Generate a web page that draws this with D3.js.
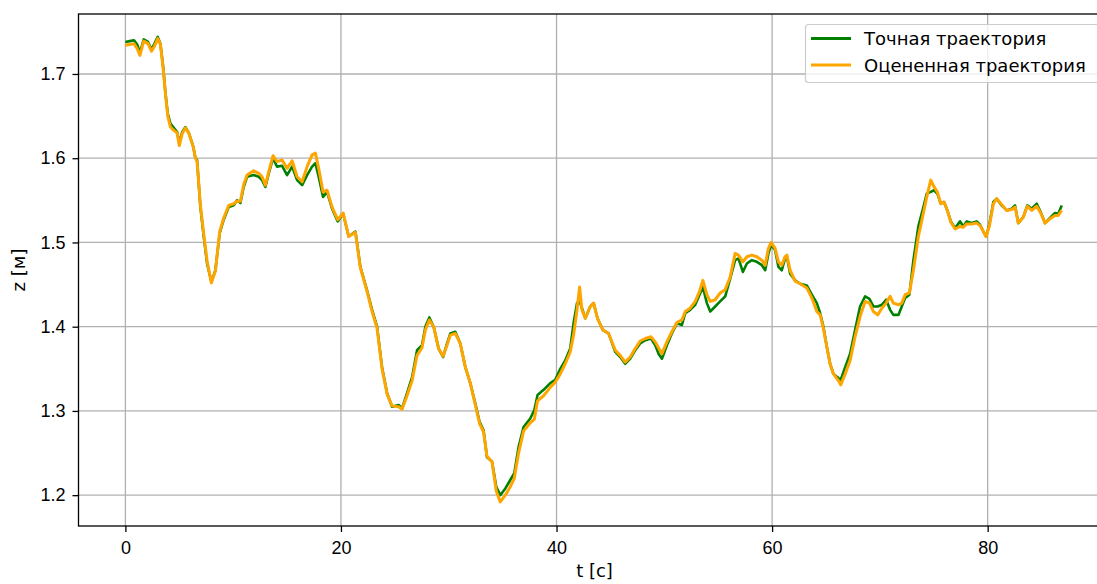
<!DOCTYPE html>
<html>
<head>
<meta charset="utf-8">
<script src="https://cdn.jsdelivr.net/npm/d3@7"></script>
<style>
  body { margin: 0; background: #fff; }
  svg { display: block; font-family: "DejaVu Sans", sans-serif; }
  .grid line { stroke: #b0b0b0; stroke-width: 1.3; }
  .axis text { font-size: 18px; fill: #000; }
  .axis path, .axis line { stroke: #000; stroke-width: 1.3; }
</style>
</head>
<body>
<div id="chart"></div>
<script>
// time, seconds
const timeS = [
  0.0, 0.4, 0.8, 1.1, 1.35, 1.7, 2.1, 2.42, 2.7, 3.0, 3.25, 3.5, 3.72, 3.93, 4.18, 4.49, 4.8, 5.0, 5.27, 5.57,
  5.88, 6.29, 6.5, 6.65, 6.96, 7.27, 7.58, 7.98, 8.35, 8.75, 9.12, 9.59, 10.05, 10.36, 10.67, 10.98, 11.29, 11.9, 12.37, 12.68,
  12.99, 13.3, 13.7, 14.07, 14.54, 15.0, 15.47, 15.93, 16.4, 16.86, 17.32, 17.63, 17.93, 18.34, 18.71, 19.18, 19.7, 20.2, 20.72, 21.34,
  21.8, 22.42, 22.89, 23.35, 23.81, 24.28, 24.74, 25.35, 25.67, 26.13, 26.6, 27.06, 27.52, 27.83, 28.2, 28.6, 29.06, 29.47, 29.84, 30.15,
  30.61, 31.07, 31.54, 32.0, 32.46, 32.86, 33.23, 33.55, 34.01, 34.41, 34.78, 35.25, 35.71, 36.08, 36.48, 36.94, 37.56, 37.94, 38.24, 38.8,
  39.42, 39.88, 40.35, 40.81, 41.27, 41.58, 41.9, 42.14, 42.36, 42.67, 43.13, 43.44, 43.8, 44.3, 44.83, 45.45, 45.91, 46.37, 46.84, 47.3,
  47.76, 48.23, 48.76, 49.16, 49.46, 49.78, 50.24, 50.7, 51.17, 51.63, 51.94, 52.4, 52.87, 53.27, 53.58, 53.95, 54.26, 54.72, 55.18, 55.65,
  56.11, 56.57, 56.88, 57.29, 57.66, 58.12, 58.59, 59.05, 59.36, 59.66, 59.91, 60.28, 60.59, 60.9, 61.2, 61.37, 61.67, 62.14, 62.6, 63.22,
  63.69, 64.15, 64.46, 64.76, 65.08, 65.38, 65.69, 66.15, 66.37, 66.78, 67.24, 67.7, 68.16, 68.63, 69.03, 69.4, 69.8, 70.18, 70.58, 70.95,
  71.25, 71.72, 72.03, 72.34, 72.74, 73.11, 73.57, 74.04, 74.35, 74.72, 75.03, 75.33, 75.65, 75.95, 76.26, 76.58, 76.98, 77.44, 77.74, 78.05,
  78.52, 78.98, 79.29, 79.6, 79.85, 80.15, 80.53, 80.84, 81.3, 81.77, 82.23, 82.54, 82.84, 83.3, 83.68, 84.09, 84.55, 84.92, 85.32, 85.78,
  86.25, 86.55, 86.87
];

// ground truth z, metres
const trueZ = [
  1.738, 1.739, 1.740, 1.735, 1.725, 1.741, 1.738, 1.729, 1.736, 1.744, 1.736, 1.709, 1.677, 1.653, 1.641, 1.636, 1.631, 1.618, 1.631, 1.637,
  1.630, 1.614, 1.600, 1.598, 1.542, 1.507, 1.475, 1.453, 1.467, 1.511, 1.527, 1.542, 1.544, 1.550, 1.547, 1.566, 1.578, 1.580, 1.578, 1.574,
  1.566, 1.582, 1.600, 1.590, 1.591, 1.580, 1.590, 1.574, 1.568, 1.580, 1.590, 1.594, 1.578, 1.554, 1.560, 1.540, 1.525, 1.534, 1.507, 1.513,
  1.471, 1.443, 1.420, 1.400, 1.352, 1.321, 1.305, 1.307, 1.303, 1.321, 1.340, 1.372, 1.378, 1.400, 1.411, 1.400, 1.374, 1.364, 1.380, 1.392,
  1.394, 1.380, 1.352, 1.333, 1.309, 1.287, 1.277, 1.245, 1.240, 1.210, 1.200, 1.208, 1.218, 1.226, 1.257, 1.281, 1.291, 1.301, 1.319, 1.325,
  1.333, 1.337, 1.350, 1.360, 1.374, 1.404, 1.428, 1.430, 1.422, 1.410, 1.424, 1.428, 1.410, 1.396, 1.392, 1.370, 1.364, 1.356, 1.362, 1.372,
  1.380, 1.384, 1.386, 1.378, 1.368, 1.362, 1.378, 1.392, 1.404, 1.402, 1.416, 1.420, 1.426, 1.438, 1.447, 1.428, 1.418, 1.424, 1.430, 1.436,
  1.457, 1.479, 1.481, 1.465, 1.475, 1.479, 1.477, 1.473, 1.467, 1.487, 1.497, 1.491, 1.471, 1.467, 1.481, 1.483, 1.463, 1.455, 1.451, 1.449,
  1.438, 1.428, 1.416, 1.400, 1.376, 1.356, 1.344, 1.339, 1.337, 1.352, 1.368, 1.396, 1.424, 1.436, 1.433, 1.424, 1.424, 1.426, 1.432, 1.420,
  1.414, 1.414, 1.424, 1.434, 1.438, 1.479, 1.519, 1.542, 1.558, 1.560, 1.562, 1.558, 1.546, 1.548, 1.538, 1.525, 1.517, 1.525, 1.519, 1.525,
  1.523, 1.525, 1.521, 1.513, 1.507, 1.521, 1.548, 1.552, 1.544, 1.538, 1.540, 1.544, 1.523, 1.530, 1.544, 1.540, 1.546, 1.536, 1.523, 1.529,
  1.535, 1.534, 1.544
];

// estimated z, metres
const estZ = [
  1.734, 1.735, 1.736, 1.730, 1.722, 1.739, 1.736, 1.727, 1.733, 1.742, 1.735, 1.707, 1.676, 1.650, 1.637, 1.633, 1.630, 1.615, 1.629, 1.636,
  1.630, 1.614, 1.600, 1.596, 1.544, 1.510, 1.478, 1.452, 1.466, 1.513, 1.529, 1.544, 1.546, 1.549, 1.549, 1.569, 1.580, 1.585, 1.582, 1.578,
  1.568, 1.584, 1.603, 1.596, 1.598, 1.588, 1.597, 1.578, 1.572, 1.590, 1.604, 1.606, 1.588, 1.560, 1.562, 1.542, 1.527, 1.535, 1.507, 1.512,
  1.470, 1.442, 1.418, 1.398, 1.350, 1.320, 1.306, 1.305, 1.302, 1.318, 1.336, 1.366, 1.375, 1.396, 1.408, 1.400, 1.374, 1.365, 1.378, 1.390,
  1.392, 1.380, 1.352, 1.333, 1.307, 1.285, 1.275, 1.246, 1.240, 1.205, 1.192, 1.200, 1.210, 1.220, 1.250, 1.276, 1.286, 1.290, 1.312, 1.318,
  1.328, 1.334, 1.344, 1.356, 1.370, 1.390, 1.420, 1.447, 1.420, 1.410, 1.424, 1.428, 1.410, 1.396, 1.392, 1.372, 1.366, 1.358, 1.364, 1.374,
  1.383, 1.386, 1.388, 1.382, 1.375, 1.368, 1.382, 1.394, 1.405, 1.408, 1.418, 1.422, 1.430, 1.442, 1.455, 1.438, 1.430, 1.432, 1.440, 1.444,
  1.459, 1.487, 1.485, 1.477, 1.483, 1.485, 1.483, 1.479, 1.473, 1.493, 1.500, 1.493, 1.477, 1.473, 1.483, 1.485, 1.467, 1.454, 1.451, 1.446,
  1.434, 1.418, 1.414, 1.398, 1.376, 1.356, 1.344, 1.336, 1.331, 1.344, 1.360, 1.388, 1.412, 1.430, 1.428, 1.418, 1.414, 1.422, 1.428, 1.436,
  1.428, 1.426, 1.428, 1.438, 1.440, 1.467, 1.507, 1.535, 1.554, 1.574, 1.566, 1.560, 1.546, 1.548, 1.538, 1.524, 1.516, 1.519, 1.518, 1.522,
  1.522, 1.523, 1.520, 1.513, 1.507, 1.519, 1.546, 1.552, 1.545, 1.538, 1.539, 1.542, 1.523, 1.530, 1.543, 1.538, 1.543, 1.535, 1.523, 1.528,
  1.532, 1.532, 1.538
];

const xTicks = [0, 20, 40, 60, 80];
const yTicks = [1.2, 1.3, 1.4, 1.5, 1.6, 1.7];
const seriesNames = ["Точная траектория", "Оцененная траектория"];
const seriesColors = ["green", "orange"];
const seriesWidths = [2.6, 3.0];

const width = 1097, height = 584;
const plot = { left: 78.5, top: 14, right: 1110, bottom: 526 };

const svg = d3.select("#chart").append("svg")
    .attr("width", width)
    .attr("height", height);

const x = d3.scaleLinear().domain([-4.35, 91.35]).range([plot.left, plot.right]);
const y = d3.scaleLinear().domain([1.1634, 1.7712]).range([plot.bottom, plot.top]);

// grid
const grid = svg.append("g").attr("class", "grid");
grid.selectAll(".gx").data(xTicks).enter().append("line")
    .attr("x1", d => x(d)).attr("x2", d => x(d))
    .attr("y1", plot.top).attr("y2", plot.bottom);
grid.selectAll(".gy").data(yTicks).enter().append("line")
    .attr("x1", plot.left).attr("x2", plot.right)
    .attr("y1", d => y(d)).attr("y2", d => y(d));

// lines
const line = d3.line().x(d => x(d[0])).y(d => y(d[1]));
[trueZ, estZ].forEach((vals, i) => {
    svg.append("path")
        .datum(timeS.map((t, j) => [t, vals[j]]))
        .attr("fill", "none")
        .attr("stroke", seriesColors[i])
        .attr("stroke-width", seriesWidths[i])
        .attr("stroke-linejoin", "round")
        .attr("d", line);
});

// axes
svg.append("g").attr("class", "axis")
    .attr("transform", `translate(0,${plot.bottom})`)
    .call(d3.axisBottom(x).tickValues(xTicks).tickSize(6).tickPadding(9).tickFormat(d3.format("d")))
    .call(g => g.select(".domain").remove());
svg.append("g").attr("class", "axis")
    .attr("transform", `translate(${plot.left},0)`)
    .call(d3.axisLeft(y).tickValues(yTicks).tickSize(6).tickPadding(7).tickFormat(d3.format(".1f")))
    .call(g => g.select(".domain").remove());

// spines
svg.append("rect")
    .attr("x", plot.left).attr("y", plot.top)
    .attr("width", plot.right - plot.left).attr("height", plot.bottom - plot.top)
    .attr("fill", "none").attr("stroke", "#000").attr("stroke-width", 1.3);

// axis labels
svg.append("text")
    .attr("x", (x(0) + x(80)) / 2 + 38).attr("y", 577)
    .attr("text-anchor", "middle").attr("font-size", 18)
    .text("t [с]");
svg.append("text")
    .attr("transform", `translate(24.5,${(plot.top + plot.bottom) / 2}) rotate(-90)`)
    .attr("text-anchor", "middle").attr("font-size", 18)
    .text("z [м]");

// legend
const legend = svg.append("g");
legend.append("rect")
    .attr("x", 805.5).attr("y", 24.5).attr("width", 320).attr("height", 58)
    .attr("rx", 3).attr("fill", "#fff").attr("fill-opacity", 0.8)
    .attr("stroke", "#cccccc").attr("stroke-width", 1.2);
seriesNames.forEach((name, i) => {
    const ly = 38.5 + i * 26.5;
    legend.append("line")
        .attr("x1", 811).attr("x2", 851).attr("y1", ly).attr("y2", ly)
        .attr("stroke", seriesColors[i]).attr("stroke-width", 2.8);
    legend.append("text")
        .attr("x", 864).attr("y", ly + 6.5)
        .attr("font-size", 18)
        .text(name);
});
</script>
</body>
</html>
